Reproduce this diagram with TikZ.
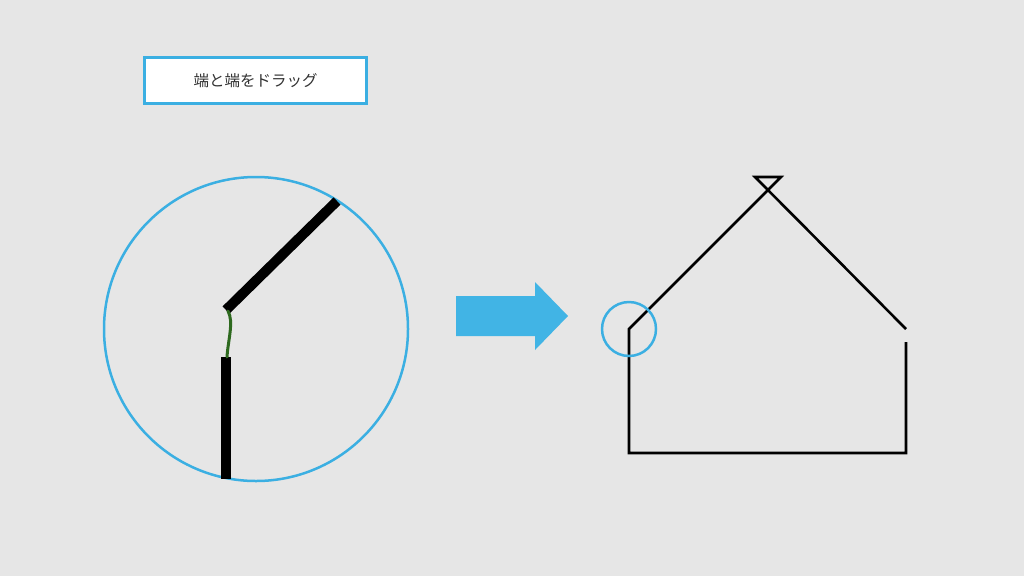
\documentclass[tikz,border=0pt]{standalone}
\usepackage{fontspec}
\newfontfamily\jpfont{Noto Sans CJK JP}
\definecolor{bg}{RGB}{230,230,230}
\definecolor{skyblue}{RGB}{59,175,226}
\definecolor{arrowblue}{RGB}{65,180,229}
\definecolor{wire}{RGB}{45,105,30}
\definecolor{txt}{RGB}{50,50,50}
\begin{document}
\begin{tikzpicture}[x=1pt,y=-1pt,
  bluering/.style={draw=skyblue,line width=2.5pt,circle,inner sep=0pt},
  thickbar/.style={line width=10pt,line cap=butt},
  houseline/.style={line width=2.6pt,line cap=butt,line join=miter}]
\fill[bg] (0,0) rectangle (1024,576);
\useasboundingbox (0,0) rectangle (1024,576);
% label
\node[draw=skyblue,fill=white,line width=2.5pt,minimum width=222pt,minimum height=46pt,inner sep=0pt,text=txt,font=\jpfont\fontsize{15.5}{18}\selectfont] (label) at (255.5,80.5) {端と端をドラッグ};
% big circle
\node[bluering,minimum size=304pt] (big) at (256,329) {};
\coordinate (a1) at (226,310);
\coordinate (a2) at (337,201);
\coordinate (b1) at (226,357);
\coordinate (b2) at (226,479);
\draw[thickbar] (a1) -- (a2);
\draw[thickbar] (b1) -- (b2);
\draw[wire,line width=3pt,line cap=round] (228,311) .. controls (234,322) and (228,340) .. (227,357);
% arrow
\fill[arrowblue] (456,296) -- (535,296) -- (535,282) -- (568,316) -- (535,350) -- (535,336) -- (456,336) -- cycle;
% house
\coordinate (hl) at (629,329);
\coordinate (pk) at (768,190);
\coordinate (rt) at (906,329);
\coordinate (rw) at (906,342);
\coordinate (br) at (906,453);
\coordinate (bl) at (629,453);
\coordinate (tl) at (755,177);
\coordinate (tr) at (781,177);
\draw[houseline] (rw) -- (br) -- (bl) -- (hl) -- (tr) -- (tl) -- (rt);
\node[bluering,minimum size=54pt] (small) at (hl) {};
\end{tikzpicture}
\end{document}
